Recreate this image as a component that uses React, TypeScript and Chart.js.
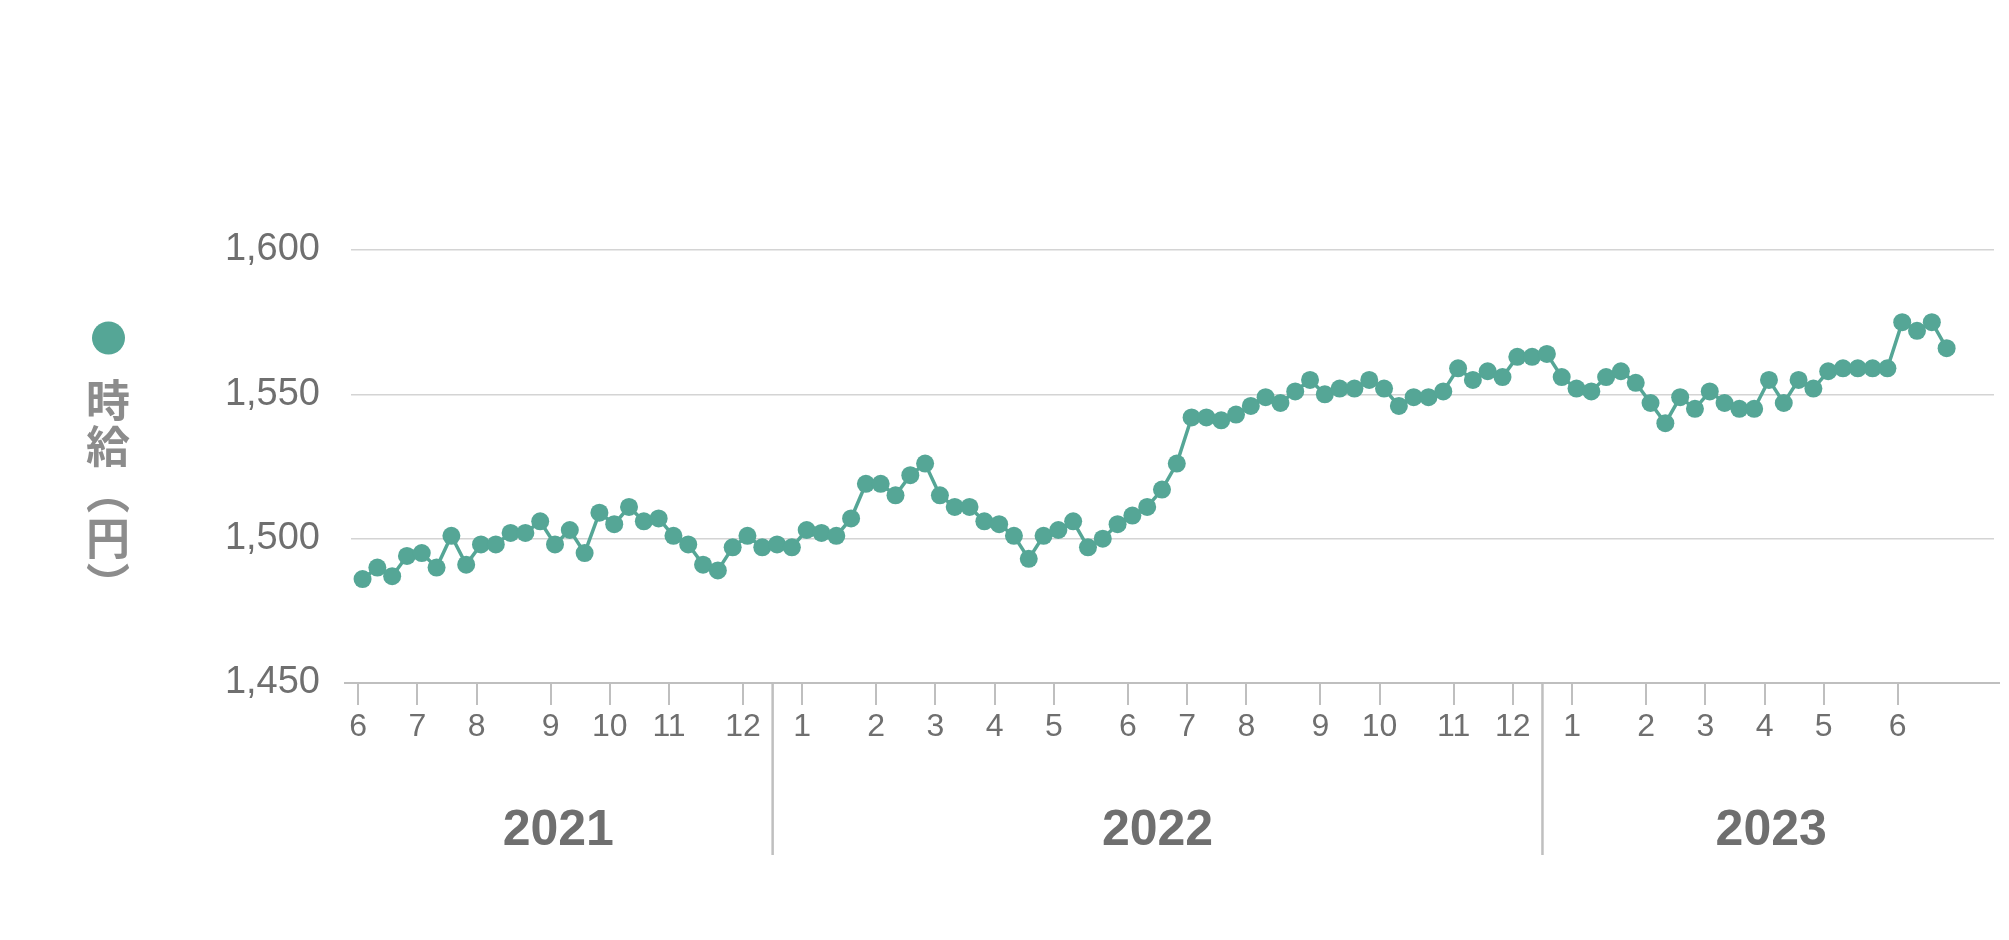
import React, { useEffect, useRef } from 'react';
import { Chart, registerables } from 'chart.js';

Chart.register(...registerables);

// Weekly hourly wage (yen), Jun 2021 – Jun 2023
const wages: number[] = [
  1486, 1490, 1487, 1494, 1495, 1490, 1501, 1491, 1498, 1498,
  1502, 1502, 1506, 1498, 1503, 1495, 1509, 1505, 1511, 1506,
  1507, 1501, 1498, 1491, 1489, 1497, 1501, 1497, 1498, 1497,
  1503, 1502, 1501, 1507, 1519, 1519, 1515, 1522, 1526, 1515,
  1511, 1511, 1506, 1505, 1501, 1493, 1501, 1503, 1506, 1497,
  1500, 1505, 1508, 1511, 1517, 1526, 1542, 1542, 1541, 1543,
  1546, 1549, 1547, 1551, 1555, 1550, 1552, 1552, 1555, 1552,
  1546, 1549, 1549, 1551, 1559, 1555, 1558, 1556, 1563, 1563,
  1564, 1556, 1552, 1551, 1556, 1558, 1554, 1547, 1540, 1549,
  1545, 1551, 1547, 1545, 1545, 1555, 1547, 1555, 1552, 1558,
  1559, 1559, 1559, 1559, 1575, 1572, 1575, 1566,
];

// Month tick labels and the number of weekly points in each month
const monthLabels: string[] = [
  '6', '7', '8', '9', '10', '11', '12',
  '1', '2', '3', '4', '5', '6', '7', '8', '9', '10', '11', '12',
  '1', '2', '3', '4', '5', '6',
];
const weeksPerMonth: number[] = [
  4, 4, 5, 4, 4, 5, 4,
  5, 4, 4, 4, 5, 4, 4, 5, 4, 5, 4, 4,
  5, 4, 4, 4, 5, 4,
];
const yearLabels: string[] = ['2021', '2022', '2023'];
const monthsPerYear: number[] = [7, 12, 6];
const yTickValues: number[] = [1450, 1500, 1550, 1600];
const seriesName = '時給（円）';

const COLOR = '#55a696';
const TEXT = '#6f6f6f';
const TITLE = '#8c8c8c';
const LINE = '#bfbfbf';
const FONT = '"Liberation Sans", Arial, Helvetica, sans-serif';
const TICK_SHIFT = -0.3;

const monthStarts: number[] = [];
weeksPerMonth.forEach((n, i) => {
  monthStarts.push(i === 0 ? 0 : monthStarts[i - 1] + weeksPerMonth[i - 1]);
});

const decorPlugin = {
  id: 'decor',
  afterDraw(chart: any) {
    const { ctx, chartArea, scales } = chart;
    const xs = scales.x;
    const ys = scales.y;
    const yb = ys.getPixelForValue(yTickValues[0]);
    ctx.save();
    // bottom axis line
    ctx.strokeStyle = LINE;
    ctx.lineWidth = 2;
    ctx.beginPath();
    ctx.moveTo(chartArea.left - 7, yb);
    ctx.lineTo(chartArea.right + 6, yb);
    ctx.stroke();
    // year separators
    const seps: number[] = [];
    let m = 0;
    for (let k = 0; k < yearLabels.length - 1; k++) {
      m += monthsPerYear[k];
      const a = xs.getPixelForValue(monthStarts[m - 1] + TICK_SHIFT);
      const b = xs.getPixelForValue(monthStarts[m] + TICK_SHIFT);
      seps.push((a + b) / 2);
    }
    ctx.lineWidth = 2.5;
    seps.forEach((sx) => {
      ctx.beginPath();
      ctx.moveTo(sx, yb);
      ctx.lineTo(sx, yb + 172);
      ctx.stroke();
    });
    // year labels
    const bounds = [chartArea.left - 7, ...seps, chartArea.right + 6];
    ctx.fillStyle = TEXT;
    ctx.font = `bold 50px ${FONT}`;
    ctx.textAlign = 'center';
    ctx.textBaseline = 'middle';
    yearLabels.forEach((yr, i) => {
      ctx.fillText(yr, (bounds[i] + bounds[i + 1]) / 2, yb + 148);
    });
    // legend dot
    ctx.fillStyle = COLOR;
    ctx.beginPath();
    ctx.arc(108.5, 338, 16.5, 0, Math.PI * 2);
    ctx.fill();
    ctx.restore();
  },
};

export default function App() {
  const canvasRef = useRef<HTMLCanvasElement | null>(null);

  useEffect(() => {
    if (!canvasRef.current) return;
    const chart = new Chart(canvasRef.current, {
      type: 'line',
      data: {
        datasets: [
          {
            label: seriesName,
            data: wages.map((v, i) => ({ x: i, y: v })),
            borderColor: COLOR,
            backgroundColor: COLOR,
            borderWidth: 3.5,
            pointRadius: 9,
            pointHoverRadius: 9,
            pointBorderWidth: 0,
            pointBackgroundColor: COLOR,
            tension: 0,
          },
        ],
      },
      options: {
        responsive: false,
        maintainAspectRatio: false,
        animation: false,
        layout: { padding: { top: 250, right: 15, left: 0, bottom: 0 } },
        plugins: { legend: { display: false }, tooltip: { enabled: false } },
        scales: {
          x: {
            type: 'linear',
            min: -0.78,
            max: 110.2,
            afterBuildTicks: (s: any) => {
              s.ticks = monthStarts.map((v) => ({ value: v + TICK_SHIFT }));
            },
            afterFit: (s: any) => {
              s.height = 257;
            },
            ticks: {
              autoSkip: false,
              maxRotation: 0,
              minRotation: 0,
              padding: 3,
              color: TEXT,
              font: { family: FONT, size: 32 },
              callback: (_v: any, i: number) => monthLabels[i],
            },
            grid: {
              drawOnChartArea: false,
              drawTicks: true,
              tickLength: 22,
              color: LINE,
              lineWidth: 2,
            },
            border: { display: false },
          },
          y: {
            min: 1450,
            max: 1600,
            afterBuildTicks: (s: any) => {
              s.ticks = yTickValues.map((v) => ({ value: v }));
            },
            afterFit: (s: any) => {
              s.width = 351;
            },
            ticks: {
              padding: 31,
              color: TEXT,
              font: { family: FONT, size: 38 },
              callback: (v: any) => Number(v).toLocaleString('en-US'),
            },
            grid: { color: '#d4d4d4', lineWidth: 1.5, drawTicks: false },
            border: { display: false },
          },
        },
      },
      plugins: [decorPlugin],
    });
    return () => chart.destroy();
  }, []);

  return (
    <div style={{ position: 'fixed', left: 0, top: 0, width: 2009, height: 940, background: '#fff' }}>
      <canvas ref={canvasRef} width={2009} height={940} style={{ width: 2009, height: 940, display: 'block' }} />
      <div
        style={{
          position: 'absolute',
          left: 78,
          top: 378,
          width: 60,
          lineHeight: '60px',
          writingMode: 'vertical-rl',
          fontFamily: '"Noto Sans CJK JP", sans-serif',
          fontWeight: 700,
          fontSize: 44,
          letterSpacing: 2,
          color: TITLE,
          whiteSpace: 'nowrap',
        }}
      >
        {seriesName}
      </div>
    </div>
  );
}
